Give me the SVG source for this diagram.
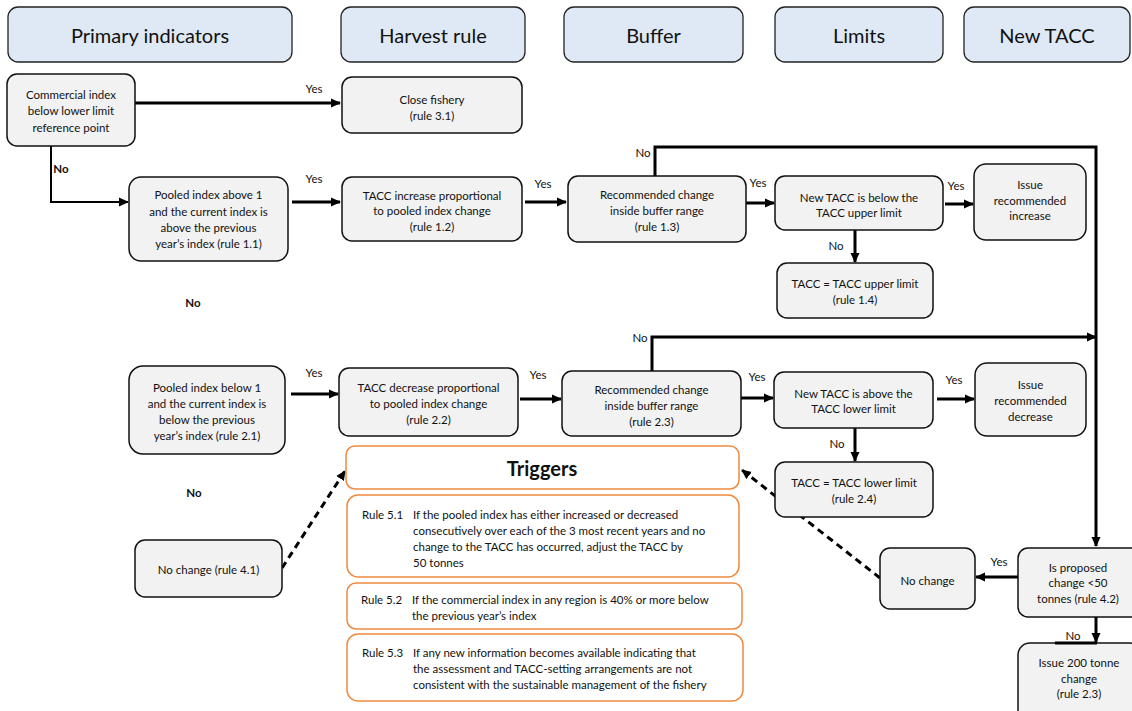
<svg xmlns="http://www.w3.org/2000/svg" width="1132" height="711" viewBox="0 0 1132 711">
<style>
.hdr rect{fill:#dfe9f5;stroke:#222;stroke-width:1.3}
.hdr text{font-family:Lato,"Liberation Sans",sans-serif;font-size:20px;fill:#111;text-anchor:middle;dominant-baseline:central}
.nd rect{fill:#f2f2f2;stroke:#111;stroke-width:1.5}
.nd text,.lbl,.tr text{font-family:Lato,"Liberation Sans",sans-serif;font-size:11.5px;fill:#111;dominant-baseline:central}
.nd text{text-anchor:middle}
.tr rect{fill:#fff;stroke:#f0893f;stroke-width:1.5}
.lbl{text-anchor:middle}
.b{font-weight:bold}
.c{fill:none;stroke:#000;stroke-width:3}
.t{stroke-width:2}
.d{stroke-dasharray:7,5;stroke-width:3}
</style>
<defs>
<marker id="ah" markerUnits="userSpaceOnUse" markerWidth="10" markerHeight="10" refX="9" refY="5" orient="auto">
<path d="M0,0.5 L10,5 L0,9.5 z" fill="#000"/>
</marker>
</defs>
<g id="connectors">
<path class="c" d="M135,103 H340" marker-end="url(#ah)"/>
<path class="c t" d="M51,146 V202 H128" marker-end="url(#ah)"/>
<path class="c" d="M292,202 H340" marker-end="url(#ah)"/>
<path class="c" d="M525,202 H566" marker-end="url(#ah)"/>
<path class="c" d="M746,203 H774" marker-end="url(#ah)"/>
<path class="c" d="M945,204 H973" marker-end="url(#ah)"/>
<path class="c" d="M855,230 V262" marker-end="url(#ah)"/>
<path class="c" d="M655,176 V147 H1096 V546" marker-end="url(#ah)"/>
<path class="c" d="M652,371 V337 H1096" marker-end="url(#ah)"/>
<path class="c" d="M291,394 H338" marker-end="url(#ah)"/>
<path class="c" d="M520,399 H561" marker-end="url(#ah)"/>
<path class="c" d="M741,398 H773" marker-end="url(#ah)"/>
<path class="c" d="M937,399 H974" marker-end="url(#ah)"/>
<path class="c" d="M855,428 V461" marker-end="url(#ah)"/>
<path class="c" d="M1018,577 H976" marker-end="url(#ah)"/>
<path class="c" d="M1096,617 V642" marker-end="url(#ah)"/>
<path class="c d" d="M282,568 L345,471" marker-end="url(#ah)"/>
<path class="c d" d="M880,578 L742,470" marker-end="url(#ah)"/>
<text class="lbl" x="314" y="88">Yes</text>
<text class="lbl b" x="61" y="168">No</text>
<text class="lbl" x="314" y="178">Yes</text>
<text class="lbl" x="543" y="183">Yes</text>
<text class="lbl" x="758" y="182">Yes</text>
<text class="lbl" x="956" y="185">Yes</text>
<text class="lbl" x="836" y="245">No</text>
<text class="lbl" x="643" y="152">No</text>
<text class="lbl" x="640" y="337">No</text>
<text class="lbl" x="314" y="372">Yes</text>
<text class="lbl" x="538" y="374">Yes</text>
<text class="lbl" x="757" y="376">Yes</text>
<text class="lbl" x="954" y="379">Yes</text>
<text class="lbl" x="837" y="443">No</text>
<text class="lbl" x="999" y="561">Yes</text>
<text class="lbl" x="1073" y="635">No</text>
<text class="lbl b" x="193" y="302">No</text>
<text class="lbl b" x="194" y="492">No</text>
</g>
<g id="hdr-primary" class="hdr"><rect x="8" y="7" width="284" height="55" rx="10"/><text x="150" y="35">Primary indicators</text></g>
<g id="hdr-harvest" class="hdr"><rect x="341" y="7" width="184" height="55" rx="10"/><text x="433" y="35">Harvest rule</text></g>
<g id="hdr-buffer" class="hdr"><rect x="564" y="7" width="179" height="55" rx="10"/><text x="653.5" y="35">Buffer</text></g>
<g id="hdr-limits" class="hdr"><rect x="775" y="7" width="168" height="55" rx="10"/><text x="859" y="35">Limits</text></g>
<g id="hdr-newtacc" class="hdr"><rect x="964" y="7" width="166" height="55" rx="10"/><text x="1047" y="35">New TACC</text></g>
<g id="commercial" class="nd"><rect x="7" y="74" width="128" height="72" rx="10"/><text x="71" y="94">Commercial index</text><text x="71" y="110">below lower limit</text><text x="71" y="127">reference point</text></g>
<g id="close" class="nd"><rect x="342" y="77" width="180" height="56" rx="10"/><text x="432" y="99">Close fishery</text><text x="432" y="115">(rule 3.1)</text></g>
<g id="pooled-above" class="nd"><rect x="129" y="177" width="159" height="84" rx="12"/><text x="208.5" y="194">Pooled index above 1</text><text x="208.5" y="211">and the current index is</text><text x="208.5" y="227">above the previous</text><text x="208.5" y="243">year’s index (rule 1.1)</text></g>
<g id="tacc-inc" class="nd"><rect x="342" y="177" width="180" height="64" rx="10"/><text x="432" y="195">TACC increase proportional</text><text x="432" y="210">to pooled index change</text><text x="432" y="226">(rule 1.2)</text></g>
<g id="rec13" class="nd"><rect x="568" y="176" width="178" height="66" rx="10"/><text x="657" y="194">Recommended change</text><text x="657" y="210">inside buffer range</text><text x="657" y="226">(rule 1.3)</text></g>
<g id="below-upper" class="nd"><rect x="775" y="176" width="168" height="54" rx="10"/><text x="859" y="197">New TACC is below the</text><text x="859" y="212">TACC upper limit</text></g>
<g id="issue-inc" class="nd"><rect x="974" y="164" width="112" height="76" rx="12"/><text x="1030" y="184">Issue</text><text x="1030" y="200">recommended</text><text x="1030" y="215">increase</text></g>
<g id="upper-limit" class="nd"><rect x="777" y="263" width="156" height="55" rx="10"/><text x="855" y="283">TACC = TACC upper limit</text><text x="855" y="299">(rule 1.4)</text></g>
<g id="pooled-below" class="nd"><rect x="129" y="366" width="156" height="88" rx="14"/><text x="207" y="387">Pooled index below 1</text><text x="207" y="403">and the current index is</text><text x="207" y="419">below the previous</text><text x="207" y="435">year’s index (rule 2.1)</text></g>
<g id="tacc-dec" class="nd"><rect x="339" y="368" width="179" height="68" rx="10"/><text x="428.5" y="387">TACC decrease proportional</text><text x="428.5" y="403">to pooled index change</text><text x="428.5" y="419">(rule 2.2)</text></g>
<g id="rec23" class="nd"><rect x="562" y="371" width="179" height="65" rx="10"/><text x="651.5" y="389">Recommended change</text><text x="651.5" y="405">inside buffer range</text><text x="651.5" y="421">(rule 2.3)</text></g>
<g id="above-lower" class="nd"><rect x="774" y="372" width="159" height="56" rx="10"/><text x="853.5" y="393">New TACC is above the</text><text x="853.5" y="408">TACC lower limit</text></g>
<g id="issue-dec" class="nd"><rect x="975" y="363" width="111" height="73" rx="12"/><text x="1030.5" y="384">Issue</text><text x="1030.5" y="400">recommended</text><text x="1030.5" y="416">decrease</text></g>
<g id="lower-limit" class="nd"><rect x="775" y="462" width="158" height="55" rx="10"/><text x="854" y="482">TACC = TACC lower limit</text><text x="854" y="498">(rule 2.4)</text></g>
<g id="nochange41" class="nd"><rect x="135" y="540" width="147" height="57" rx="10"/><text x="208.5" y="569">No change (rule 4.1)</text></g>
<g id="nochange" class="nd"><rect x="880" y="548" width="95" height="61" rx="10"/><text x="927.5" y="580">No change</text></g>
<g id="proposed" class="nd"><rect x="1018" y="548" width="124" height="69" rx="10"/><text x="1078" y="567">Is proposed</text><text x="1078" y="582">change &lt;50</text><text x="1078" y="598">tonnes (rule 4.2)</text></g>
<g id="issue200" class="nd"><rect x="1018" y="643" width="124" height="80" rx="12"/><path d="M1055,643 H1097" stroke="#000" stroke-width="3"/><text x="1079" y="662">Issue 200 tonne</text><text x="1079" y="678">change</text><text x="1079" y="693">(rule 2.3)</text></g>
<g id="triggers" class="tr"><rect x="346" y="446" width="393" height="43" rx="9"/><text x="542" y="468" style="font-size:20px;font-weight:bold;text-anchor:middle">Triggers</text></g>
<g id="rule51" class="tr"><rect x="347" y="495" width="392" height="82" rx="11"/><text x="362" y="514">Rule 5.1</text><text x="413" y="514">If the pooled index has either increased or decreased</text><text x="413" y="530">consecutively over each of the 3 most recent years and no</text><text x="413" y="546">change to the TACC has occurred, adjust the TACC by</text><text x="413" y="562">50 tonnes</text></g>
<g id="rule52" class="tr"><rect x="347" y="583" width="395" height="46" rx="9"/><text x="361" y="599">Rule 5.2</text><text x="412" y="599">If the commercial index in any region is 40% or more below</text><text x="412" y="615">the previous year’s index</text></g>
<g id="rule53" class="tr"><rect x="347" y="634" width="396" height="67" rx="11"/><text x="362" y="652">Rule 5.3</text><text x="413" y="652">If any new information becomes available indicating that</text><text x="413" y="668">the assessment and TACC-setting arrangements are not</text><text x="413" y="684">consistent with the sustainable management of the fishery</text></g>
</svg>
